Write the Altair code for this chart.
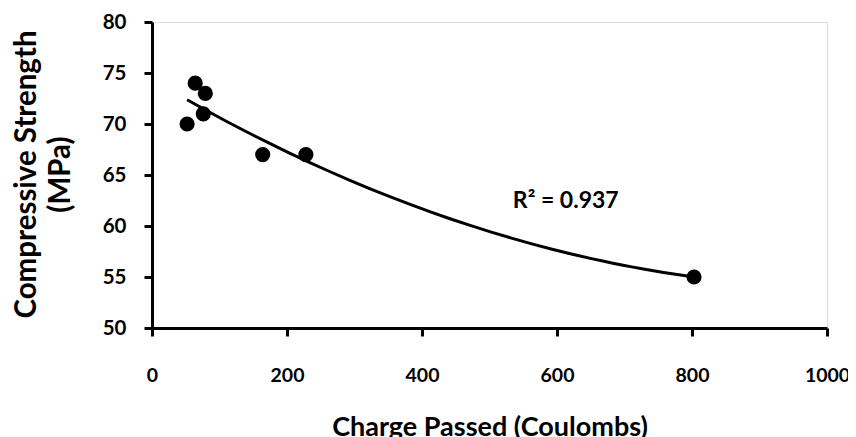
import altair as alt
import pandas as pd

# Data
charge = [52, 64, 76, 79, 164, 228, 803]
strength = [70, 74, 71, 73, 67, 67, 55]
x_ticks = [0, 200, 400, 600, 800, 1000]
y_ticks = [50, 55, 60, 65, 70, 75, 80]
r2_label = ["R² = 0.937"]
r2_pos_x = [613]
r2_pos_y = [61.8]

df = pd.DataFrame({"charge": charge, "strength": strength})
lab = pd.DataFrame({"x": r2_pos_x, "y": r2_pos_y, "t": r2_label})

FONT = "Lato"

x_enc = alt.X(
    "charge:Q",
    scale=alt.Scale(domain=[0, 1000], nice=False, zero=False),
    axis=alt.Axis(
        values=x_ticks,
        format="d",
        title="Charge Passed (Coulombs)",
        grid=False,
        domainColor="black",
        domainWidth=3,
        tickColor="black",
        tickWidth=3,
        tickSize=8,
        labelFont=FONT,
        labelFontSize=19.5,
        labelFontWeight="bold",
        labelColor="black",
        labelBaseline="alphabetic",
        labelPadding=45,
        labelFlush=False,
        labelOverlap=False,
        titleFont=FONT,
        titleFontSize=27,
        titleFontWeight="bold",
        titleColor="black",
        titleBaseline="alphabetic",
        titleY=107,
    ),
)
y_enc = alt.Y(
    "strength:Q",
    scale=alt.Scale(domain=[50, 80], nice=False, zero=False),
    axis=alt.Axis(
        values=y_ticks,
        title=["Compressive Strength", "(MPa)"],
        grid=False,
        domainColor="black",
        domainWidth=3,
        tickColor="black",
        tickWidth=3,
        tickSize=8,
        labelFont=FONT,
        labelFontSize=20.5,
        labelFontWeight="bold",
        labelColor="black",
        labelPadding=18,
        labelFlush=False,
        labelOverlap=False,
        titleFont=FONT,
        titleFontSize=29.5,
        titleFontWeight="bold",
        titleColor="black",
        titleAngle=-90,
        titleBaseline="middle",
        titleAlign="center",
        titleLineHeight=34,
        titleX=-126,
        titleY=152,
    ),
)

base = alt.Chart(df)

points = base.mark_circle(size=230, color="black", opacity=1).encode(x=x_enc, y=y_enc)

trend = (
    base.transform_regression("charge", "strength", method="poly", order=2)
    .mark_line(color="black", strokeWidth=3)
    .encode(x="charge:Q", y="strength:Q")
)

label = (
    alt.Chart(lab)
    .mark_text(font=FONT, fontSize=23, fontWeight="bold", color="black",
               align="center", baseline="alphabetic")
    .encode(x="x:Q", y="y:Q", text="t:N")
)

chart = (
    alt.layer(trend, points, label)
    .properties(
        width=675,
        height=306,
        autosize=alt.AutoSizeParams(type="none"),
        padding={"left": 144, "top": 14, "right": 21, "bottom": 110},
    )
    .configure_view(stroke=None)
    .configure(background="white")
)

chart.save("out.html", embed_options={"renderer": "svg", "actions": False})
